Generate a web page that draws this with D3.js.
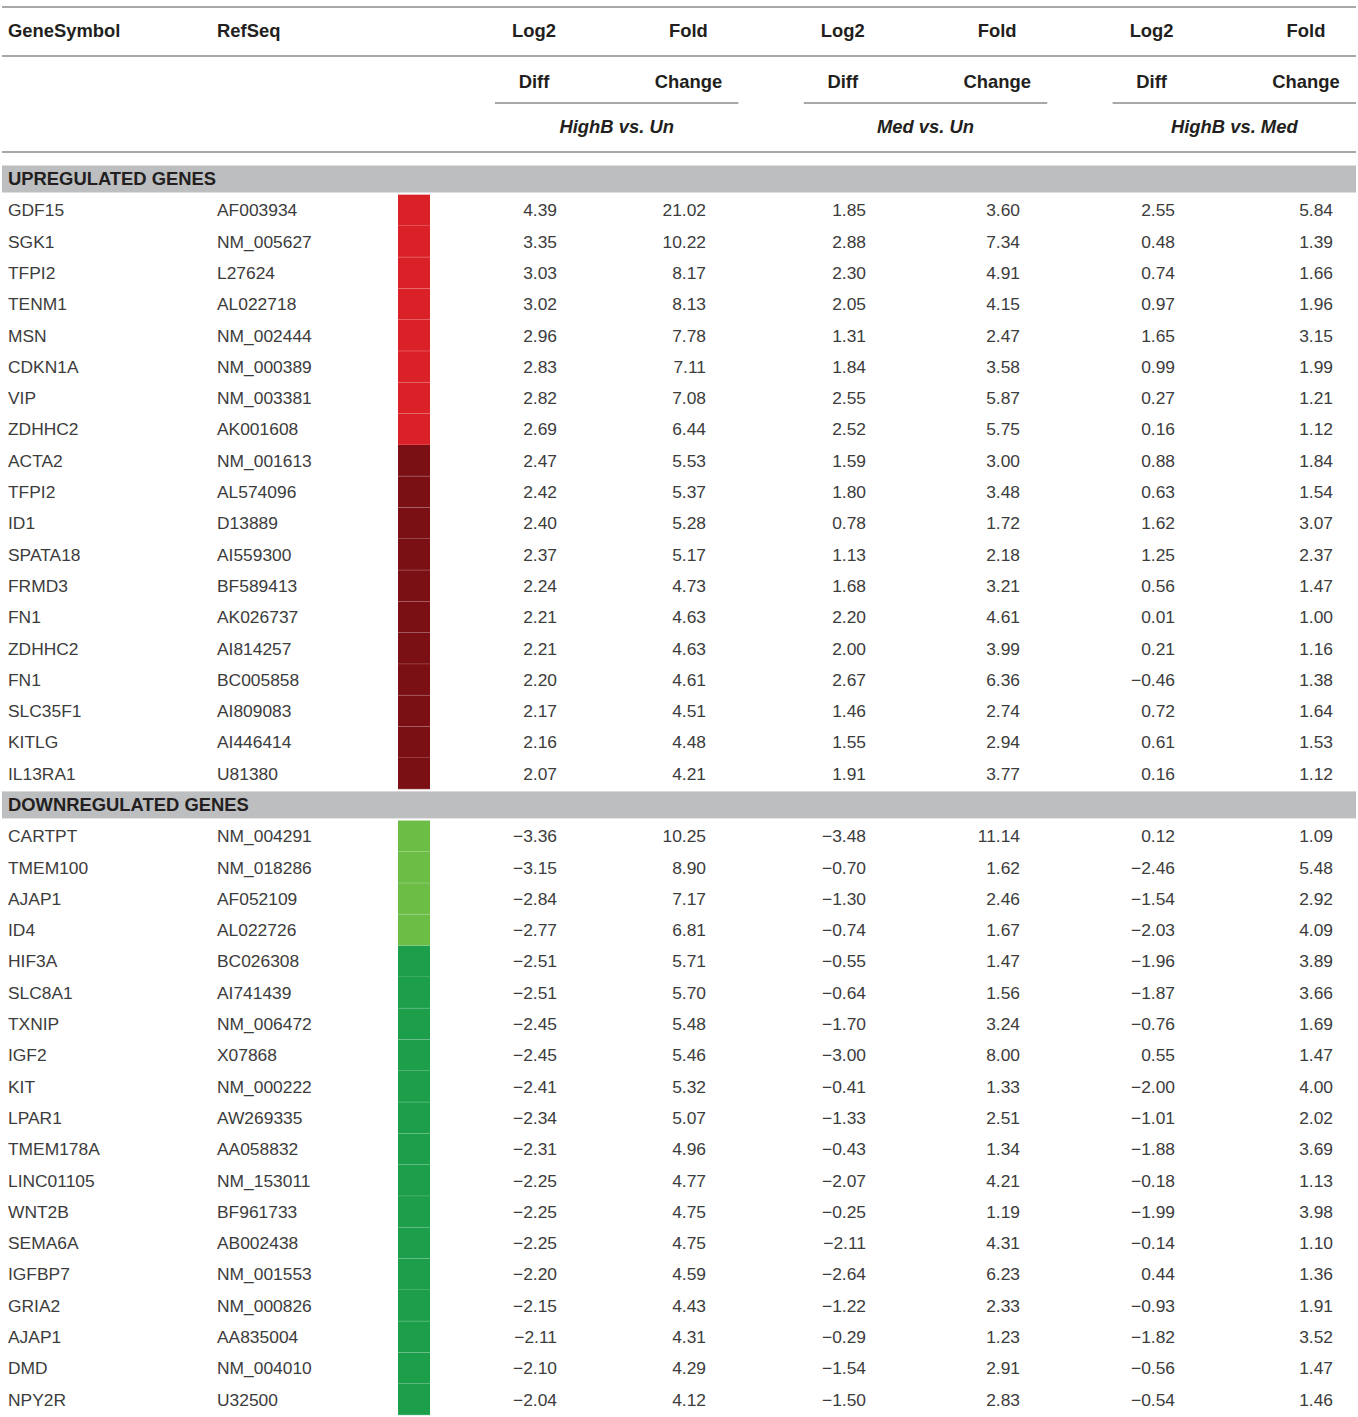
<!DOCTYPE html>
<html>
<head>
<meta charset="utf-8">
<script src="https://cdn.jsdelivr.net/npm/d3@7"></script>
<style>
  body { margin: 0; background: #fff; }
  svg { display: block; }
  .body-text { font-family: "Liberation Sans", Arial, sans-serif; font-size: 17.4px; fill: #3c3c3c; }
  .head-text { font-family: "Liberation Sans", Arial, sans-serif; font-size: 18.4px; font-weight: bold; fill: #231f20; }
</style>
</head>
<body>
<div id="root"></div>
<script>
// table contents
const comparisons = ['HighB vs. Un', 'Med vs. Un', 'HighB vs. Med'];
const headTop = ['Log2', 'Fold'];
const headSub = ['Diff', 'Change'];
const sections = ['UPREGULATED GENES', 'DOWNREGULATED GENES'];

const upGenes = ['GDF15', 'SGK1', 'TFPI2', 'TENM1', 'MSN', 'CDKN1A', 'VIP', 'ZDHHC2', 'ACTA2', 'TFPI2', 'ID1', 'SPATA18', 'FRMD3', 'FN1', 'ZDHHC2', 'FN1', 'SLC35F1', 'KITLG', 'IL13RA1'];
const upRefSeq = ['AF003934', 'NM_005627', 'L27624', 'AL022718', 'NM_002444', 'NM_000389', 'NM_003381', 'AK001608', 'NM_001613', 'AL574096', 'D13889', 'AI559300', 'BF589413', 'AK026737', 'AI814257', 'BC005858', 'AI809083', 'AI446414', 'U81380'];
const upTier = [1, 1, 1, 1, 1, 1, 1, 1, 0, 0, 0, 0, 0, 0, 0, 0, 0, 0, 0];
const upHighUnDiff = [4.39, 3.35, 3.03, 3.02, 2.96, 2.83, 2.82, 2.69, 2.47, 2.42, 2.40, 2.37, 2.24, 2.21, 2.21, 2.20, 2.17, 2.16, 2.07];
const upHighUnFold = [21.02, 10.22, 8.17, 8.13, 7.78, 7.11, 7.08, 6.44, 5.53, 5.37, 5.28, 5.17, 4.73, 4.63, 4.63, 4.61, 4.51, 4.48, 4.21];
const upMedUnDiff = [1.85, 2.88, 2.30, 2.05, 1.31, 1.84, 2.55, 2.52, 1.59, 1.80, 0.78, 1.13, 1.68, 2.20, 2.00, 2.67, 1.46, 1.55, 1.91];
const upMedUnFold = [3.60, 7.34, 4.91, 4.15, 2.47, 3.58, 5.87, 5.75, 3.00, 3.48, 1.72, 2.18, 3.21, 4.61, 3.99, 6.36, 2.74, 2.94, 3.77];
const upHighMedDiff = [2.55, 0.48, 0.74, 0.97, 1.65, 0.99, 0.27, 0.16, 0.88, 0.63, 1.62, 1.25, 0.56, 0.01, 0.21, -0.46, 0.72, 0.61, 0.16];
const upHighMedFold = [5.84, 1.39, 1.66, 1.96, 3.15, 1.99, 1.21, 1.12, 1.84, 1.54, 3.07, 2.37, 1.47, 1.00, 1.16, 1.38, 1.64, 1.53, 1.12];

const downGenes = ['CARTPT', 'TMEM100', 'AJAP1', 'ID4', 'HIF3A', 'SLC8A1', 'TXNIP', 'IGF2', 'KIT', 'LPAR1', 'TMEM178A', 'LINC01105', 'WNT2B', 'SEMA6A', 'IGFBP7', 'GRIA2', 'AJAP1', 'DMD', 'NPY2R'];
const downRefSeq = ['NM_004291', 'NM_018286', 'AF052109', 'AL022726', 'BC026308', 'AI741439', 'NM_006472', 'X07868', 'NM_000222', 'AW269335', 'AA058832', 'NM_153011', 'BF961733', 'AB002438', 'NM_001553', 'NM_000826', 'AA835004', 'NM_004010', 'U32500'];
const downTier = [1, 1, 1, 1, 0, 0, 0, 0, 0, 0, 0, 0, 0, 0, 0, 0, 0, 0, 0];
const downHighUnDiff = [-3.36, -3.15, -2.84, -2.77, -2.51, -2.51, -2.45, -2.45, -2.41, -2.34, -2.31, -2.25, -2.25, -2.25, -2.20, -2.15, -2.11, -2.10, -2.04];
const downHighUnFold = [10.25, 8.90, 7.17, 6.81, 5.71, 5.70, 5.48, 5.46, 5.32, 5.07, 4.96, 4.77, 4.75, 4.75, 4.59, 4.43, 4.31, 4.29, 4.12];
const downMedUnDiff = [-3.48, -0.70, -1.30, -0.74, -0.55, -0.64, -1.70, -3.00, -0.41, -1.33, -0.43, -2.07, -0.25, -2.11, -2.64, -1.22, -0.29, -1.54, -1.50];
const downMedUnFold = [11.14, 1.62, 2.46, 1.67, 1.47, 1.56, 3.24, 8.00, 1.33, 2.51, 1.34, 4.21, 1.19, 4.31, 6.23, 2.33, 1.23, 2.91, 2.83];
const downHighMedDiff = [0.12, -2.46, -1.54, -2.03, -1.96, -1.87, -0.76, 0.55, -2.00, -1.01, -1.88, -0.18, -1.99, -0.14, 0.44, -0.93, -1.82, -0.56, -0.54];
const downHighMedFold = [1.09, 5.48, 2.92, 4.09, 3.89, 3.66, 1.69, 1.47, 4.00, 2.02, 3.69, 1.13, 3.98, 1.10, 1.36, 1.91, 3.52, 1.47, 1.46];

// build row list: section header then its genes
const rows = [];
const addSection = (title, dir, genes, refs, tiers, cols) => {
  rows.push({ type: 'section', title });
  genes.forEach((g, i) => {
    rows.push({ type: 'gene', dir, gene: g, ref: refs[i], tier: tiers[i], values: cols.map(c => c[i]) });
  });
};
addSection(sections[0], 'up', upGenes, upRefSeq, upTier,
  [upHighUnDiff, upHighUnFold, upMedUnDiff, upMedUnFold, upHighMedDiff, upHighMedFold]);
addSection(sections[1], 'down', downGenes, downRefSeq, downTier,
  [downHighUnDiff, downHighUnFold, downMedUnDiff, downMedUnFold, downHighMedDiff, downHighMedFold]);

const W = 1358;
const H = 1417;
const left = 2;
const right = 1356;

const svg = d3.select('#root').append('svg')
  .attr('width', W)
  .attr('height', H);

// row centres
const y = d3.scaleLinear().domain([0, rows.length - 1]).range([179, 1399.5]);
const rowH = y(1) - y(0);

// value columns (centres) and where the numbers end (right aligned)
const x = d3.scalePoint().domain(d3.range(6)).range([534, 1306]);
const numRight = [557, 706, 866, 1020, 1175, 1333];
const fmt = d3.format('.2f');

const tierColor = {
  up: d3.scaleOrdinal().domain([1, 0]).range(['#db2128', '#7b1014']),
  down: d3.scaleOrdinal().domain([1, 0]).range(['#6cbd45', '#1c9e4a']),
};

const rule = (x1, x2, yy) => svg.append('line')
  .attr('x1', x1).attr('x2', x2).attr('y1', yy).attr('y2', yy)
  .attr('stroke', '#8b8b8b').attr('stroke-width', 1.4);

// header lines
rule(left, right, 7);
rule(left, right, 56);
rule(left, right, 152);
comparisons.forEach((c, k) => {
  const x0 = x(k * 2) - 39;
  const x1 = x(k * 2 + 1) + 50;
  rule(x0, x1, 103);
  svg.append('text')
    .attr('class', 'head-text')
    .attr('x', (x0 + x1) / 2)
    .attr('y', 127)
    .attr('dy', '0.35em')
    .attr('text-anchor', 'middle')
    .attr('font-style', 'italic')
    .text(c);
});

svg.append('text').attr('class', 'head-text')
  .attr('x', 8).attr('y', 31).attr('dy', '0.35em').text('GeneSymbol');
svg.append('text').attr('class', 'head-text')
  .attr('x', 217).attr('y', 31).attr('dy', '0.35em').text('RefSeq');

svg.selectAll('text.top')
  .data(d3.range(6))
  .join('text')
  .attr('class', 'head-text top')
  .attr('x', d => x(d))
  .attr('y', 31)
  .attr('dy', '0.35em')
  .attr('text-anchor', 'middle')
  .text(d => headTop[d % 2]);

svg.selectAll('text.sub')
  .data(d3.range(6))
  .join('text')
  .attr('class', 'head-text sub')
  .attr('x', d => x(d))
  .attr('y', 82)
  .attr('dy', '0.35em')
  .attr('text-anchor', 'middle')
  .text(d => headSub[d % 2]);

// rows
const rowG = svg.selectAll('g.row')
  .data(rows)
  .join('g')
  .attr('class', 'row')
  .attr('transform', (d, i) => `translate(0,${y(i)})`);

const sect = rowG.filter(d => d.type === 'section');
sect.append('rect')
  .attr('x', left)
  .attr('y', -13.5)
  .attr('width', right - left)
  .attr('height', 27)
  .attr('fill', '#bcbec0');
sect.append('text')
  .attr('class', 'head-text')
  .attr('x', 8)
  .attr('dy', '0.35em')
  .text(d => d.title);

const gene = rowG.filter(d => d.type === 'gene');
gene.append('rect')
  .attr('x', 398)
  .attr('y', -rowH / 2)
  .attr('width', 32)
  .attr('height', rowH)
  .attr('fill', d => tierColor[d.dir](d.tier));
gene.append('line')
  .attr('x1', 398).attr('x2', 430)
  .attr('y1', rowH / 2).attr('y2', rowH / 2)
  .attr('stroke', '#fff').attr('stroke-opacity', 0.3).attr('stroke-width', 1);
gene.append('text')
  .attr('class', 'body-text')
  .attr('x', 8)
  .attr('dy', '0.35em')
  .text(d => d.gene);
gene.append('text')
  .attr('class', 'body-text')
  .attr('x', 217)
  .attr('dy', '0.35em')
  .text(d => d.ref);
gene.selectAll('text.num')
  .data(d => d.values)
  .join('text')
  .attr('class', 'body-text num')
  .attr('x', (v, j) => numRight[j])
  .attr('dy', '0.35em')
  .attr('text-anchor', 'end')
  .text(v => fmt(v));
</script>
</body>
</html>
